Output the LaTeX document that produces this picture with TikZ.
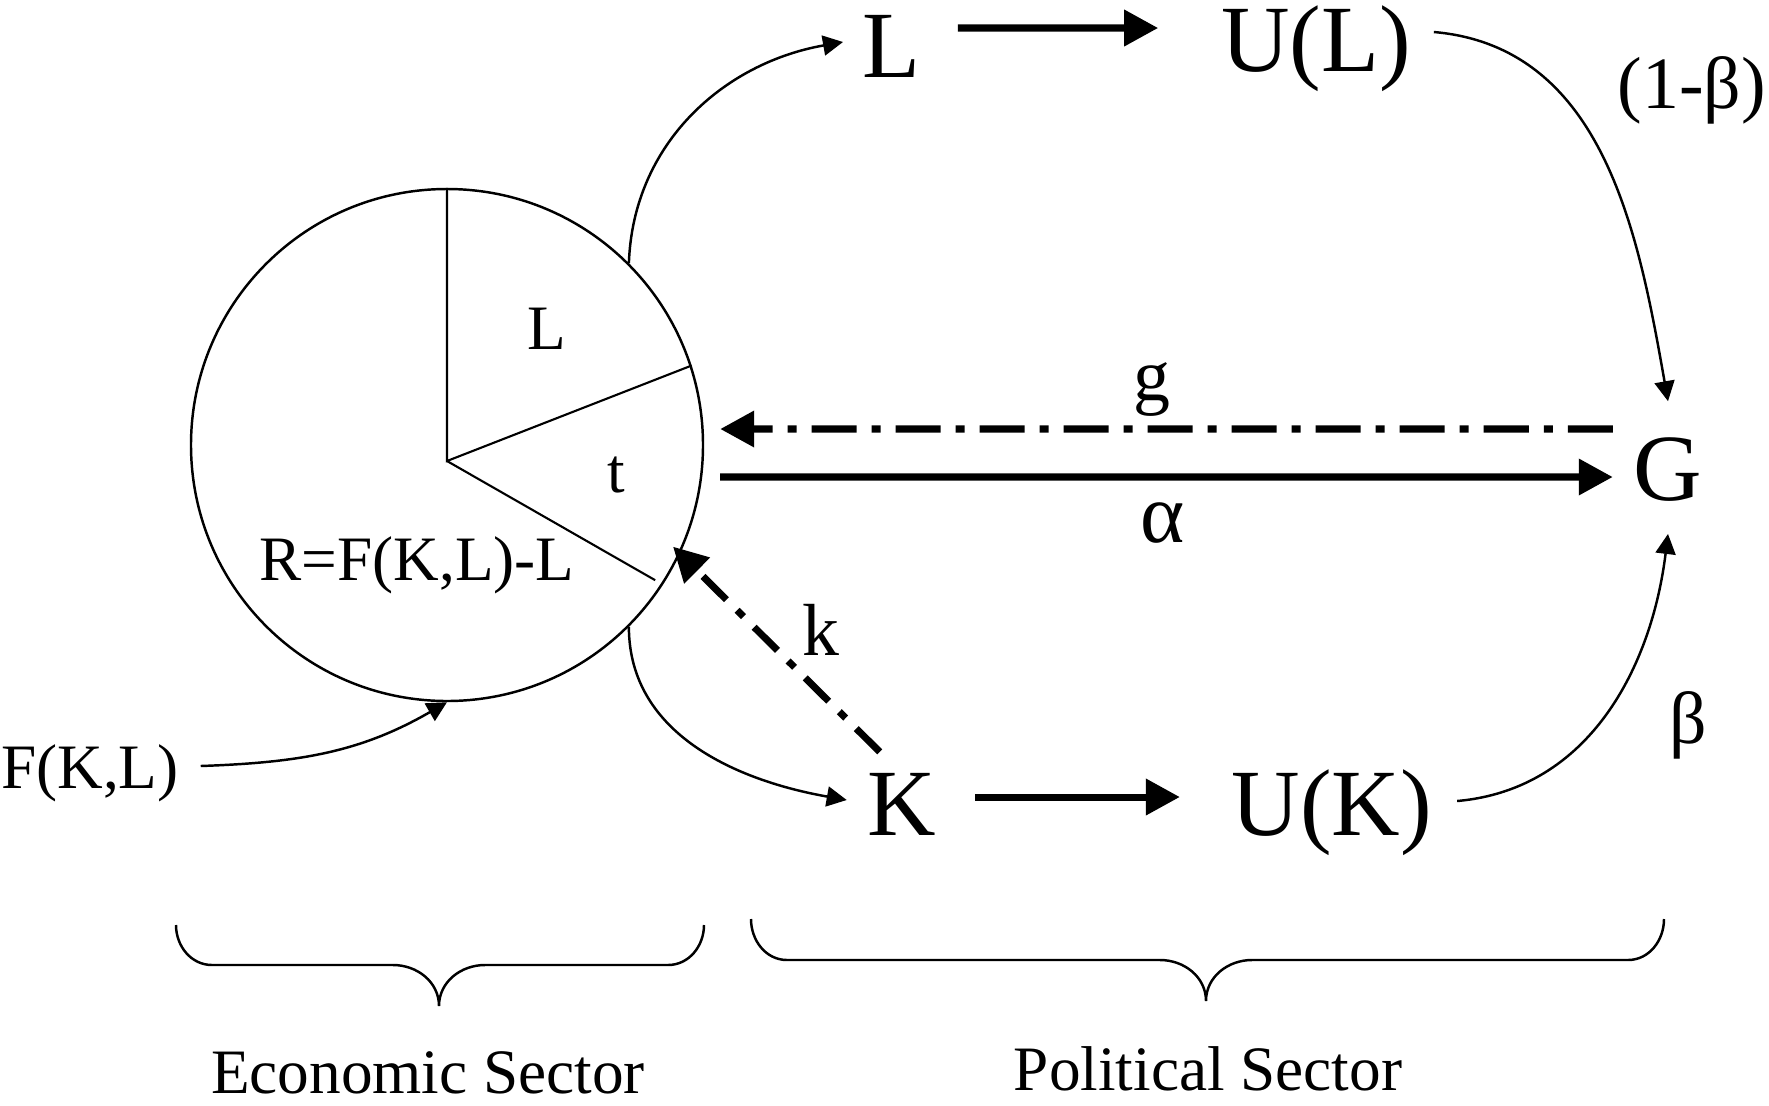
\documentclass[tikz,border=0pt]{standalone}
\usepackage{fontspec}
\setmainfont{Liberation Serif}
\usetikzlibrary{arrows.meta,positioning,calc}

\begin{document}
\begin{tikzpicture}[
  txt/.style={inner sep=0pt, outer sep=0pt, anchor=base},
  big/.style={txt, font=\fontsize{27}{30}\selectfont},
  lab/.style={txt, font=\fontsize{21}{24}\selectfont},
  sml/.style={txt, font=\fontsize{18}{21}\selectfont},
  bigarr/.style={-{Triangle[length=3.4mm,width=3.5mm]}, line width=2pt},
  dd/.style={bigarr, dash pattern=on 4.5mm off 1.5mm on 0.9mm off 1.5mm},
  thinarr/.style={-{Triangle[length=2mm,width=2mm]}, line width=0.7pt},
]
\useasboundingbox (0,0) rectangle (17.69,-11.05);
\node[draw, circle, line width=0.7pt, minimum size=5.12cm, inner sep=0pt] (circ) at (4.47,-4.45) {};
\coordinate (pc) at (4.47,-4.61);
\draw[line width=0.6pt] (circ.90) -- (pc) -- (circ.18);
\draw[line width=0.6pt] (pc) -- ($(circ.center)!0.965!(circ.-33)$);
\node[sml] (pieL) at (5.47,-3.49) {L};
\node[sml] (pieT) at (6.16,-4.92) {t};
\node[sml] (pieR) at (4.17,-5.80) {R=F(K,L)-L};
\node[sml] (F) at (0.90,-7.88) {F(K,L)};
\node[big] (L) at (8.91,-0.77) {L};
\node[big] (UL) at (13.16,-0.71) {U(L)};
\node[big] (G) at (16.68,-5.00) {G};
\node[big] (K) at (9.02,-8.35) {K};
\node[big] (UK) at (13.32,-8.35) {U(K)};
\node[lab] (omb) at (16.92,-1.08) {(1-β)};
\node[lab] (bt) at (16.88,-7.43) {β};
\node[lab] (gl) at (11.52,-4.00) {g};
\node[lab, font=\fontsize{24}{26}\selectfont] (al) at (11.63,-5.42) {α};
\node[lab] (kl) at (8.21,-6.55) {k};
\node[sml] (eco) at (4.28,-10.93) {Economic Sector};
\node[sml] (pol) at (12.08,-10.90) {Political Sector};
\draw[bigarr] ([xshift=3.8mm,yshift=4.9mm]L.base east) -- ([xshift=-6.3mm,yshift=4.3mm]UL.base west);
\draw[bigarr] ([xshift=3.9mm,yshift=3.8mm]K.base east) -- ([xshift=-5.2mm,yshift=3.8mm]UK.base west);
\draw[bigarr] ([xshift=1.6mm,yshift=-3.2mm]circ.east) -- ([xshift=-2.1mm,yshift=2.3mm]G.base west);
\draw[dd] ([xshift=-2.1mm,yshift=7.1mm]G.base west) -- ([xshift=1.6mm,yshift=1.6mm]circ.east);
\draw[dd, dash pattern=on 3.3mm off 1.5mm on 0.9mm off 1.5mm, shorten >=-1mm] ([xshift=1.2mm,yshift=2.1mm]K.north west) -- (circ.-25);
\draw[thinarr] (circ.45) to[out=88, in=190] ([xshift=-1.9mm,yshift=3.5mm]L.base west);
\draw[thinarr] (circ.-45) to[out=-90, in=170] ([xshift=-2.1mm,yshift=3.5mm]K.base west);
\draw[thinarr] ([xshift=2.3mm,yshift=3.9mm]UL.base east) to[out=-5, in=100] ([yshift=3.6mm]G.north);
\draw[thinarr] ([xshift=2.5mm,yshift=3.4mm]UK.base east) to[out=5, in=-97] ([yshift=-3.3mm]G.south);
\draw[thinarr] ([xshift=2.2mm,yshift=2.2mm]F.base east) to[out=2, in=210] (circ.south);
\draw[line width=0.7pt] (1.76,-9.25) to[out=-90,in=180] (2.12,-9.65) -- (3.93,-9.65) to[out=0,in=90] (4.39,-10.06)
  to[out=90,in=180] (4.85,-9.65) -- (6.68,-9.65) to[out=0,in=-90] (7.04,-9.25);
\draw[line width=0.7pt] (7.51,-9.19) to[out=-90,in=180] (7.87,-9.60) -- (11.60,-9.60) to[out=0,in=90] (12.06,-10.01)
  to[out=90,in=180] (12.52,-9.60) -- (16.28,-9.60) to[out=0,in=-90] (16.64,-9.19);
\end{tikzpicture}
\end{document}
